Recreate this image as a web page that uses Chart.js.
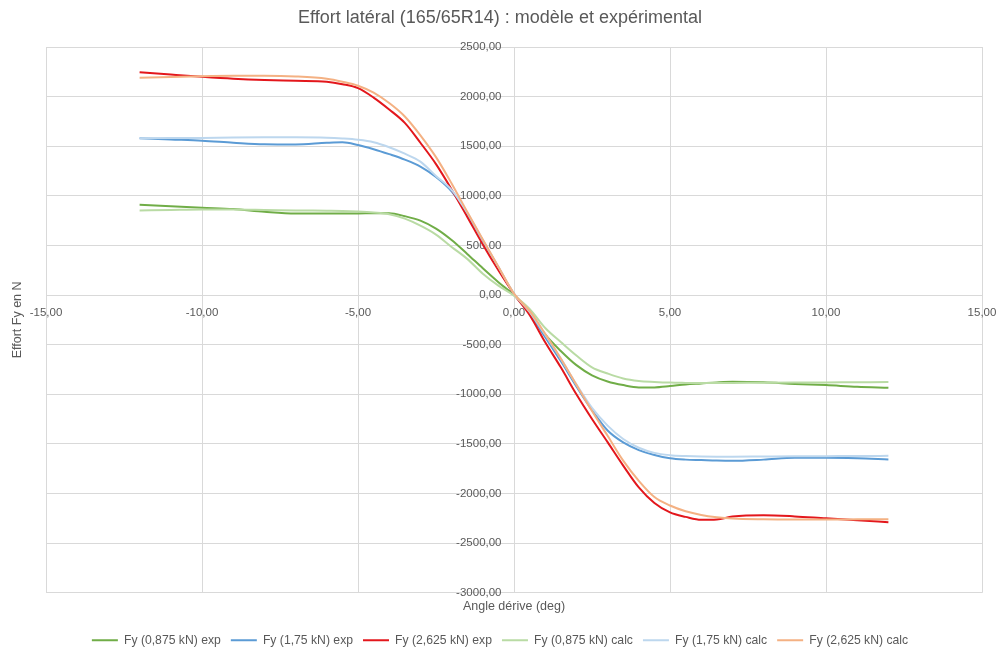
<!DOCTYPE html>
<html>
<head>
<meta charset="utf-8">
<script src="https://cdn.jsdelivr.net/npm/chart.js@4/dist/chart.umd.min.js"></script>
<style>
  html, body { margin: 0; padding: 0; background: #ffffff; }
  #wrap { width: 1000px; height: 649px; }
</style>
</head>
<body>
<div id="wrap"><canvas id="chart" width="1000" height="649"></canvas></div>
<script>
// Slip angle (deg) at which every series is sampled
const angles = [-12, -11, -10, -9, -8, -7, -6, -5.5, -5, -4.5, -4, -3.5, -3, -2.5, -2, -1.5, -1, -0.5, 0,
                0.5, 1, 1.5, 2, 2.5, 3, 3.5, 4, 4.5, 5, 5.5, 6, 6.5, 7, 8, 9, 10, 11, 12];

// Measured lateral force Fy (N)
const fyExp0875 = [910, 895, 880, 867, 840, 823, 823, 823, 823, 824, 824, 795, 750, 670, 555, 415, 270, 130, 0,
                   -165, -396, -563, -706, -808, -870, -907, -930, -930, -917, -900, -890, -880, -874, -879, -895, -907, -924, -934];
const fyExp175  = [1580, 1568, 1556, 1536, 1520, 1518, 1535, 1540, 1512, 1470, 1420, 1365, 1295, 1190, 1045, 820, 550, 280, 12,
                   -185, -425, -665, -920, -1160, -1365, -1485, -1562, -1612, -1645, -1658, -1663, -1668, -1670, -1658, -1640, -1640, -1645, -1656];
const fyExp2625 = [2245, 2222, 2200, 2181, 2168, 2160, 2150, 2125, 2085, 1990, 1870, 1735, 1535, 1320, 1065, 790, 510, 250, 10,
                   -200, -475, -728, -1000, -1249, -1482, -1718, -1938, -2095, -2190, -2235, -2265, -2262, -2232, -2218, -2230, -2250, -2268, -2288];

// Model lateral force Fy (N)
const fyCalc0875 = [853, 858, 862, 862, 858, 853, 850, 848, 842, 832, 815, 770, 700, 610, 485, 365, 215, 95, -5,
                    -140, -332, -473, -609, -728, -790, -840, -865, -875, -882, -885, -887, -887, -886, -883, -881, -880, -878, -877];
const fyCalc175  = [1580, 1582, 1584, 1588, 1590, 1590, 1586, 1578, 1565, 1540, 1490, 1425, 1345, 1200, 1060, 830, 555, 283, 15,
                    -170, -400, -640, -900, -1137, -1315, -1450, -1538, -1590, -1613, -1622, -1627, -1628, -1628, -1626, -1624, -1623, -1622, -1620];
const fyCalc2625 = [2190, 2198, 2206, 2210, 2210, 2203, 2180, 2150, 2110, 2040, 1935, 1800, 1610, 1390, 1125, 840, 560, 285, 15,
                    -160, -390, -638, -904, -1169, -1418, -1668, -1872, -2035, -2120, -2178, -2215, -2238, -2252, -2260, -2262, -2262, -2260, -2258];

const seriesLabels = ['Fy (0,875 kN) exp', 'Fy (1,75 kN) exp', 'Fy (2,625 kN) exp',
                      'Fy (0,875 kN) calc', 'Fy (1,75 kN) calc', 'Fy (2,625 kN) calc'];
const seriesValues = [fyExp0875, fyExp175, fyExp2625, fyCalc0875, fyCalc175, fyCalc2625];
const seriesColors = ['#70AD47', '#5B9BD5', '#E3171C', '#B9DBA4', '#BDD7EE', '#F4B183'];

const TEXT = '#595959';
const GRID = '#D9D9D9';
const FONT = "'Liberation Sans', Arial, sans-serif";

const commaFmt = v => Number(v).toFixed(2).replace('.', ',');

const datasets = seriesValues.map((vals, i) => ({
  label: seriesLabels[i],
  data: angles.map((a, k) => ({ x: a, y: vals[k] })),
  borderColor: seriesColors[i],
  backgroundColor: seriesColors[i],
  borderWidth: 2,
  pointRadius: 0,
  pointHoverRadius: 0,
  pointBorderWidth: 2,
  cubicInterpolationMode: 'monotone',
  fill: false,
  // later series are painted over earlier ones
  order: seriesValues.length - i
}));

new Chart(document.getElementById('chart'), {
  type: 'line',
  data: { datasets },
  options: {
    responsive: false,
    animation: false,
    events: [],
    layout: { padding: { left: 0, right: 0, top: 0, bottom: -7.4 } },
    plugins: {
      title: {
        display: true,
        text: 'Effort latéral (165/65R14) : modèle et expérimental',
        color: TEXT,
        font: { family: FONT, size: 18, weight: 'normal' },
        padding: { top: 7, bottom: 18.4 }
      },
      legend: {
        position: 'bottom',
        labels: {
          color: TEXT,
          font: { family: FONT, size: 12.2 },
          usePointStyle: true,
          pointStyle: 'line',
          pointStyleWidth: 26,
          padding: 10,
          sort: (a, b) => a.datasetIndex - b.datasetIndex
        }
      },
      tooltip: { enabled: false }
    },
    scales: {
      x: {
        type: 'linear',
        position: { y: 0 },
        min: -15, max: 15,
        grid: { color: GRID, lineWidth: 1, drawTicks: true, tickLength: 8, tickColor: 'rgba(0,0,0,0)' },
        border: { color: GRID, width: 1 },
        ticks: {
          stepSize: 5, autoSkip: false, maxRotation: 0,
          padding: 3, color: TEXT,
          font: { family: FONT, size: 11.5 },
          callback: commaFmt
        }
      },
      y: {
        type: 'linear',
        // labels sit just left of the zero line; the zero line itself comes from the x grid
        position: { x: -0.4 },
        min: -3000, max: 2500,
        grid: { color: GRID, lineWidth: 1, drawTicks: false },
        border: { display: false },
        ticks: {
          stepSize: 500, autoSkip: false,
          color: TEXT,
          font: { family: FONT, size: 11.5 },
          callback: commaFmt
        }
      },
      // outer axes that only carry the axis titles
      xTitle: {
        type: 'linear', position: 'bottom', min: -15, max: 15,
        grid: { display: false, drawTicks: false }, border: { display: false },
        ticks: { display: false },
        title: {
          display: true, text: 'Angle dérive (deg)', color: TEXT,
          font: { family: FONT, size: 12.5 },
          padding: { top: 6, bottom: 10.4 }
        }
      },
      yTitle: {
        type: 'linear', position: 'left', min: -3000, max: 2500,
        grid: { display: false, drawTicks: false }, border: { display: false },
        ticks: { display: false },
        title: {
          display: true, text: 'Effort Fy en N', color: TEXT,
          font: { family: FONT, size: 12.5 },
          padding: { top: 10, bottom: 21 }
        }
      },
      // empty right-hand margin of the plot
      yRight: {
        type: 'linear', position: 'right', min: -3000, max: 2500,
        grid: { display: false, drawTicks: false }, border: { display: false },
        ticks: { display: false },
        title: {
          display: true, text: '', font: { family: FONT, size: 10 },
          padding: { top: 3, bottom: 3 }
        }
      }
    }
  }
});
</script>
</body>
</html>
